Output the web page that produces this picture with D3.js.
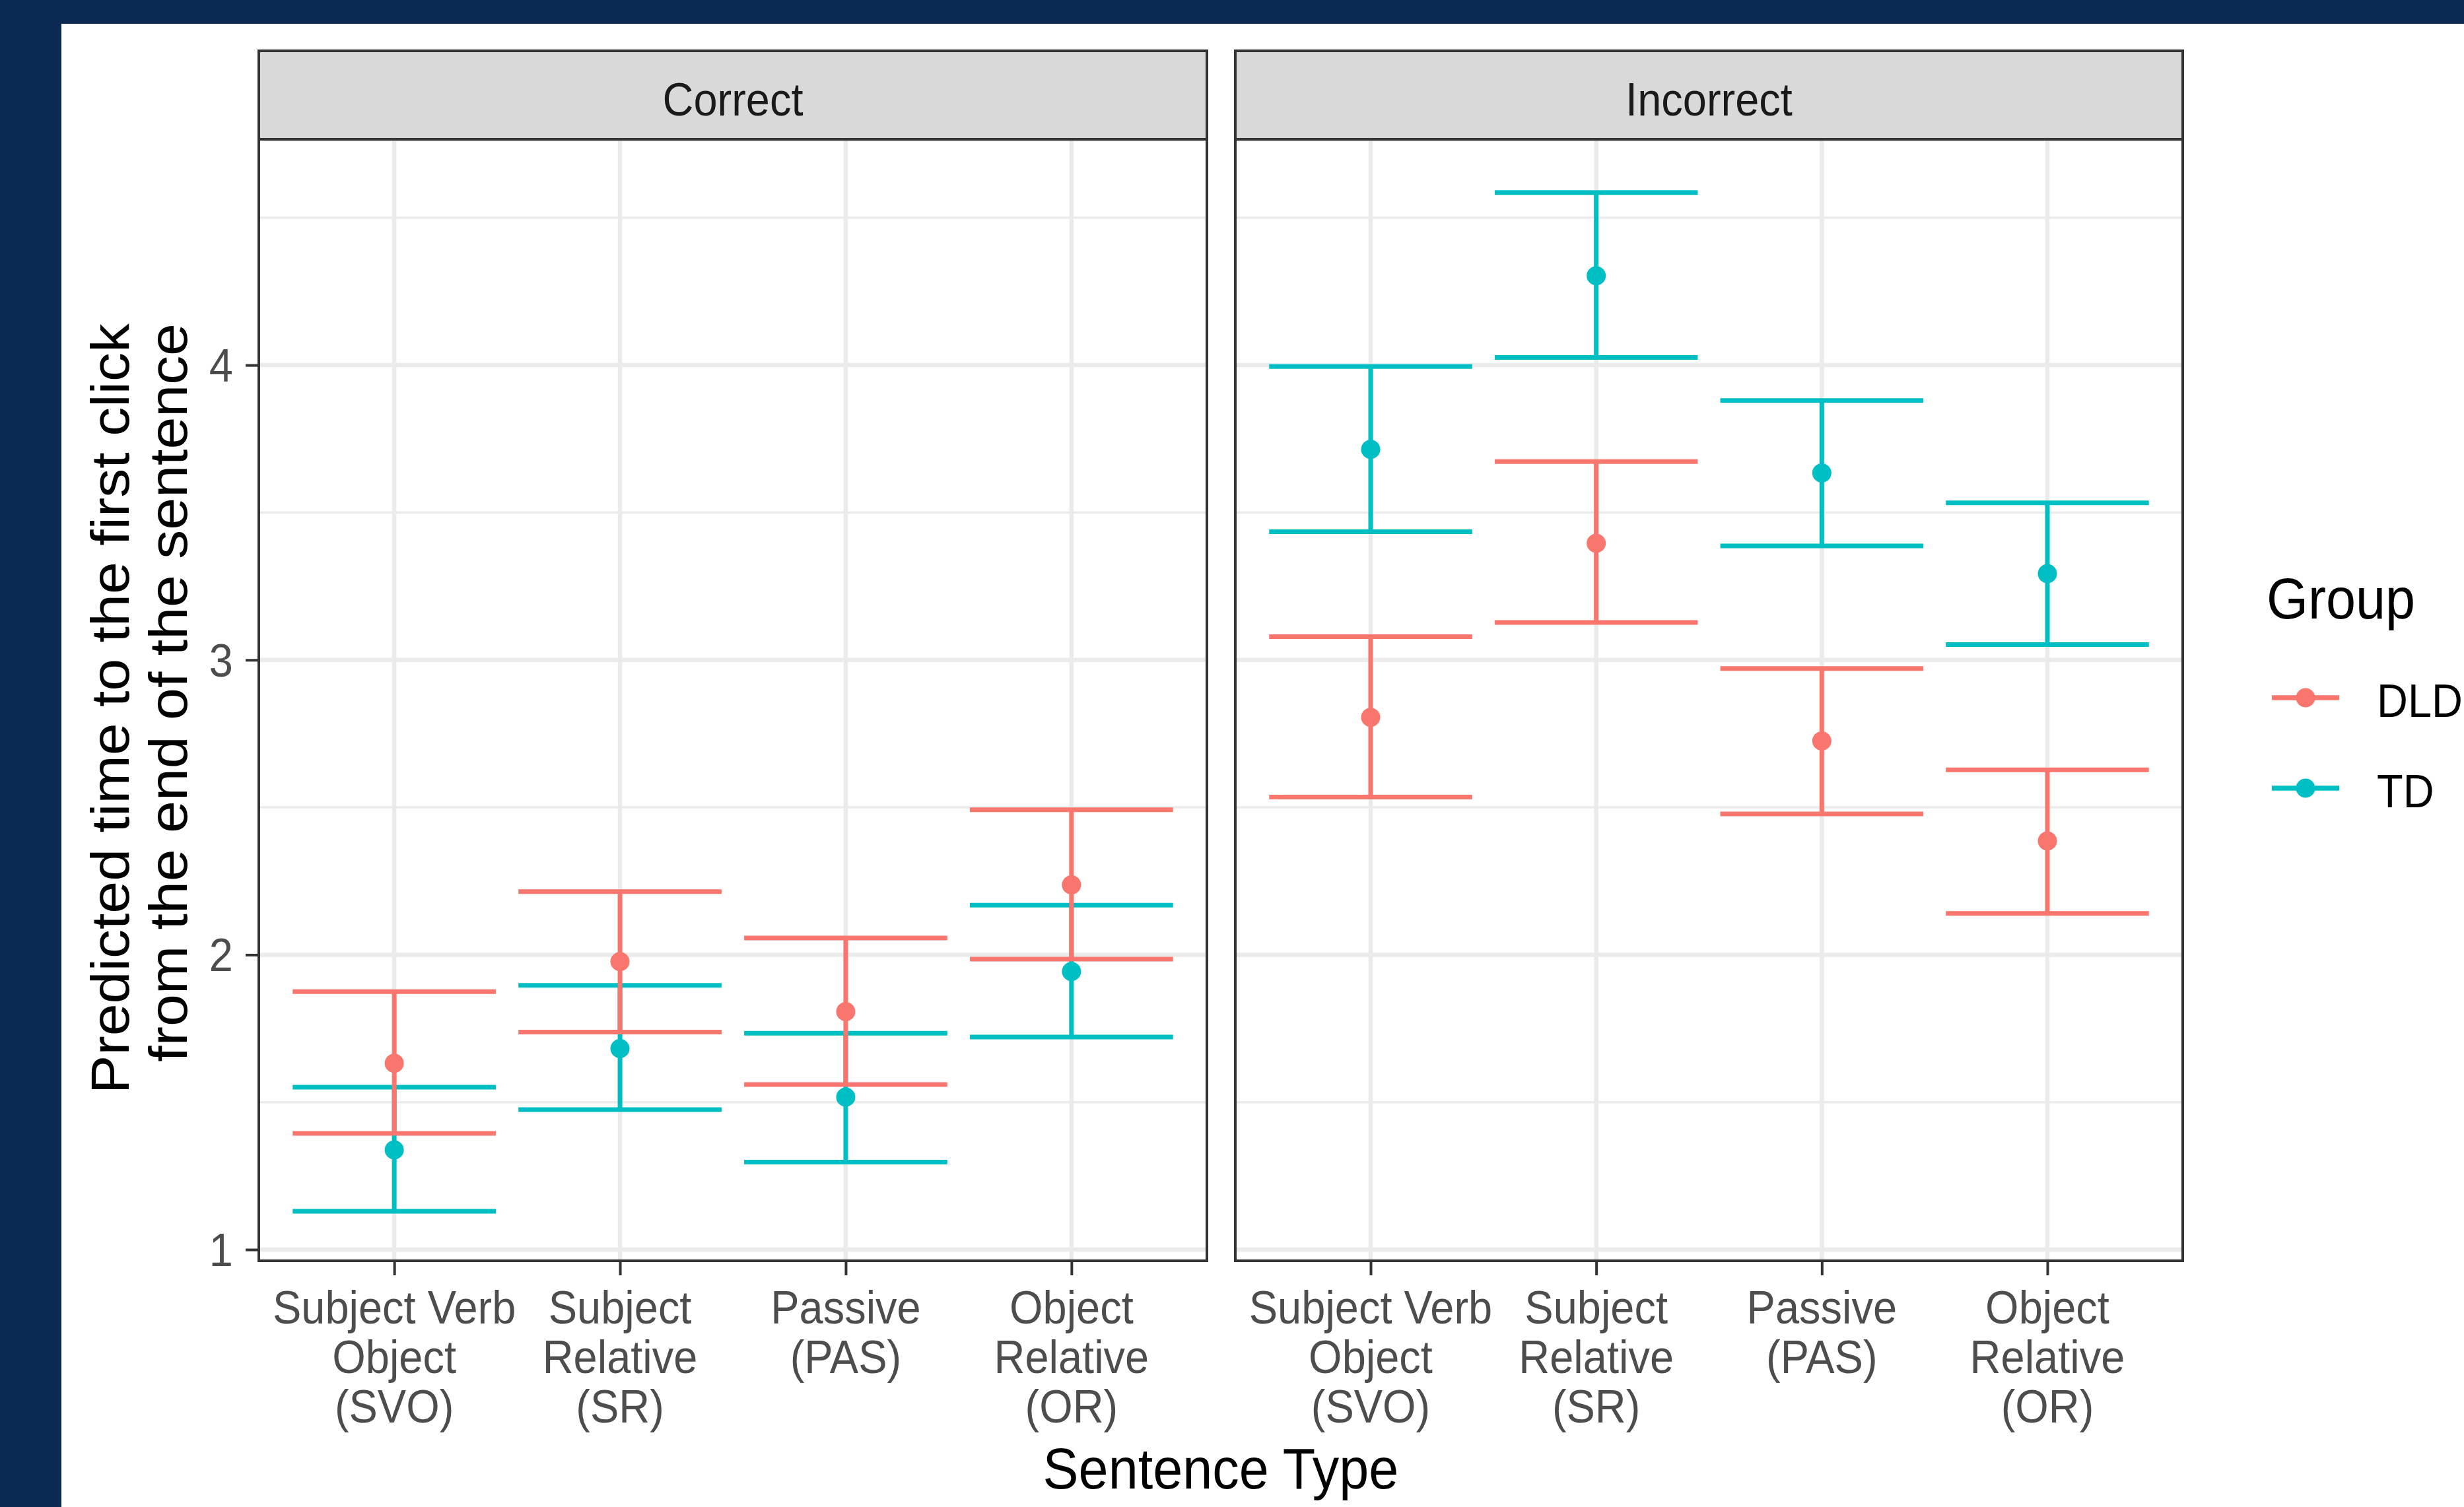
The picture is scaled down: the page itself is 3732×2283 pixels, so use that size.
<!DOCTYPE html>
<html>
<head>
<meta charset="utf-8">
<script src="https://cdn.jsdelivr.net/npm/d3@7"></script>
<style>
  html, body { margin: 0; padding: 0; background: #0b2a53; }
  svg { display: block; font-family: "Liberation Sans", Arial, sans-serif; }
</style>
</head>
<body>
<svg id="chart" width="3732" height="2283"></svg>
<script>
'use strict';

// sentence types, in axis order
const categories = ['SVO', 'SR', 'PAS', 'OR'];
const tickLabels = [
  ['Subject Verb', 'Object', '(SVO)'],
  ['Subject', 'Relative', '(SR)'],
  ['Passive', '(PAS)'],
  ['Object', 'Relative', '(OR)']
];
const facets = ['Correct', 'Incorrect'];
const groups = ['DLD', 'TD'];
const groupColors = ['#F8766D', '#00BFC4'];
const yTicks = [1, 2, 3, 4];
const yMinorTicks = [1.5, 2.5, 3.5, 4.5];

// predicted values with lower / upper bounds
const correctDldFit = [1.632, 1.977, 1.807, 2.237];
const correctDldLow = [1.394, 1.738, 1.560, 1.985];
const correctDldHigh = [1.875, 2.214, 2.057, 2.492];
const correctTdFit = [1.338, 1.682, 1.517, 1.943];
const correctTdLow = [1.130, 1.475, 1.297, 1.721];
const correctTdHigh = [1.551, 1.896, 1.734, 2.168];
const incorrectDldFit = [2.805, 3.396, 2.725, 2.386];
const incorrectDldLow = [2.535, 3.127, 2.478, 2.140];
const incorrectDldHigh = [3.079, 3.673, 2.971, 2.627];
const incorrectTdFit = [3.714, 4.303, 3.634, 3.293];
const incorrectTdLow = [3.435, 4.026, 3.387, 3.052];
const incorrectTdHigh = [3.995, 4.585, 3.880, 3.533];

const series = {
  Correct: {
    DLD: { fit: correctDldFit, low: correctDldLow, high: correctDldHigh },
    TD: { fit: correctTdFit, low: correctTdLow, high: correctTdHigh }
  },
  Incorrect: {
    DLD: { fit: incorrectDldFit, low: incorrectDldLow, high: incorrectDldHigh },
    TD: { fit: incorrectTdFit, low: incorrectTdLow, high: incorrectTdHigh }
  }
};

// layout
const W = 3732, H = 2283;
const panels = [[392, 1828], [1871, 3306]];
const stripTop = 77, panelTop = 211, panelBottom = 1910;
const tickFont = 65, titleFont = 81, stretch = 1.085;
const drawOrder = ['TD', 'DLD']; // DLD ends up on top

const svg = d3.select('#chart');

svg.append('rect').attr('x', 93).attr('y', 36)
  .attr('width', W - 93).attr('height', H - 36).attr('fill', '#ffffff');

const y = d3.scaleLinear().domain([0.962, 4.766]).range([panelBottom, panelTop]);
const color = d3.scaleOrdinal().domain(groups).range(groupColors);

// horizontal text with a slight vertical stretch, as in the picture
function hText(g, x, yy, str, size, fill, anchor) {
  return g.append('text')
    .attr('transform', `translate(${x},${yy}) scale(1,${stretch})`)
    .attr('text-anchor', anchor || 'middle')
    .attr('font-size', size)
    .attr('fill', fill)
    .text(str);
}

facets.forEach((facet, fi) => {
  const [x0, x1] = panels[fi];
  const x = d3.scalePoint().domain(categories).range([x0, x1]).padding(0.6);
  const half = x.step() * 0.45;
  const g = svg.append('g').attr('class', 'panel');

  // grid
  g.selectAll('line.minor').data(yMinorTicks).join('line')
    .attr('x1', x0).attr('x2', x1)
    .attr('y1', d => y(d)).attr('y2', d => y(d))
    .attr('stroke', '#ebebeb').attr('stroke-width', 3.5);
  g.selectAll('line.majory').data(yTicks).join('line')
    .attr('x1', x0).attr('x2', x1)
    .attr('y1', d => y(d)).attr('y2', d => y(d))
    .attr('stroke', '#ebebeb').attr('stroke-width', 6.5);
  g.selectAll('line.majorx').data(categories).join('line')
    .attr('x1', d => x(d)).attr('x2', d => x(d))
    .attr('y1', panelTop).attr('y2', panelBottom)
    .attr('stroke', '#ebebeb').attr('stroke-width', 6.5);

  // error bars then points
  drawOrder.forEach(grp => {
    const s = series[facet][grp];
    const col = color(grp);
    const eg = g.append('g').attr('stroke', col).attr('stroke-width', 7);
    categories.forEach((c, i) => {
      eg.append('line').attr('x1', x(c)).attr('x2', x(c))
        .attr('y1', y(s.low[i])).attr('y2', y(s.high[i]));
      eg.append('line').attr('x1', x(c) - half).attr('x2', x(c) + half)
        .attr('y1', y(s.low[i])).attr('y2', y(s.low[i]));
      eg.append('line').attr('x1', x(c) - half).attr('x2', x(c) + half)
        .attr('y1', y(s.high[i])).attr('y2', y(s.high[i]));
    });
  });
  drawOrder.forEach(grp => {
    const s = series[facet][grp];
    g.append('g').selectAll('circle').data(categories).join('circle')
      .attr('cx', d => x(d))
      .attr('cy', (d, i) => y(s.fit[i]))
      .attr('r', 14.5)
      .attr('fill', color(grp));
  });

  // panel border
  g.append('rect').attr('x', x0).attr('y', panelTop)
    .attr('width', x1 - x0).attr('height', panelBottom - panelTop)
    .attr('fill', 'none').attr('stroke', '#333333').attr('stroke-width', 4);

  // strip
  g.append('rect').attr('x', x0).attr('y', stripTop)
    .attr('width', x1 - x0).attr('height', panelTop - stripTop)
    .attr('fill', '#d9d9d9').attr('stroke', '#333333').attr('stroke-width', 4);
  hText(g, (x0 + x1) / 2, 175, facet, tickFont, '#1a1a1a');

  // x axis
  const xa = g.append('g').attr('transform', `translate(0,${panelBottom})`)
    .call(d3.axisBottom(x).tickSize(22).tickFormat(''));
  xa.select('.domain').remove();
  xa.selectAll('.tick line').attr('stroke', '#333333').attr('stroke-width', 4);
  categories.forEach((c, i) => {
    tickLabels[i].forEach((line, li) => {
      hText(g, x(c), 2005 + li * 75, line, tickFont, '#4d4d4d');
    });
  });

  // y axis only on the first panel
  if (fi === 0) {
    const ya = g.append('g').attr('transform', `translate(${x0},0)`)
      .call(d3.axisLeft(y).tickValues(yTicks).tickSize(20).tickFormat(''));
    ya.select('.domain').remove();
    ya.selectAll('.tick line').attr('stroke', '#333333').attr('stroke-width', 4);
    yTicks.forEach(t => {
      hText(g, 353, y(t) + 25, String(t), tickFont, '#4d4d4d', 'end');
    });
  }
});

// axis titles
hText(svg, (panels[0][0] + panels[1][1]) / 2, 2255, 'Sentence Type', titleFont, '#000000');

const yTitle = ['Predicted time to the first click', 'from the end of the sentence'];
yTitle.forEach((line, i) => {
  svg.append('text')
    .attr('transform', `translate(${195 + i * 88},490) rotate(-90) scale(${stretch},1)`)
    .attr('text-anchor', 'end')
    .attr('font-size', titleFont)
    .attr('fill', '#000000')
    .text(line);
});

// legend
const legend = svg.append('g');
hText(legend, 3433, 937, 'Group', titleFont, '#000000', 'start');
groups.forEach((grp, i) => {
  const cy = 1057 + i * 137;
  legend.append('line').attr('x1', 3441).attr('x2', 3543)
    .attr('y1', cy).attr('y2', cy)
    .attr('stroke', color(grp)).attr('stroke-width', 7.5);
  legend.append('circle').attr('cx', 3492).attr('cy', cy).attr('r', 14.5)
    .attr('fill', color(grp));
  hText(legend, 3600, cy + 29, grp, tickFont, '#000000', 'start');
});
</script>
</body>
</html>
